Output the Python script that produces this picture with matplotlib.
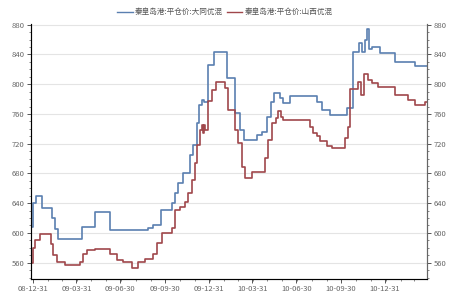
import matplotlib
matplotlib.use("Agg")
import matplotlib.pyplot as plt
import matplotlib.dates as mdates
import pandas as pd

plt.rcParams['font.family'] = ['Noto Sans CJK SC', 'DejaVu Sans']

series_names = ["秦皇岛港:平仓价:大同优混", "秦皇岛港:平仓价:山西优混"]

blue_dates = ["2008-12-27", "2008-12-31", "2009-01-06", "2009-01-19", "2009-02-08", "2009-02-15",
              "2009-02-21", "2009-04-12", "2009-05-09", "2009-06-09", "2009-08-27", "2009-09-06",
              "2009-09-22", "2009-10-15", "2009-10-22", "2009-10-28", "2009-11-07", "2009-11-22",
              "2009-11-28", "2009-12-06", "2009-12-10", "2009-12-17", "2009-12-21", "2009-12-29",
              "2010-01-10", "2010-02-06", "2010-02-23", "2010-03-05", "2010-03-14", "2010-04-10",
              "2010-04-20", "2010-04-30", "2010-05-09", "2010-05-15", "2010-05-27", "2010-06-02",
              "2010-06-17", "2010-08-12", "2010-08-22", "2010-09-08", "2010-10-13", "2010-10-26",
              "2010-11-07", "2010-11-13", "2010-11-20", "2010-11-24", "2010-11-28", "2010-12-04",
              "2010-12-21", "2011-01-21", "2011-03-03", "2011-03-28"]
blue_values = [608, 640, 649, 634, 620, 605,
               592, 608, 628, 604, 606, 610,
               631, 640, 654, 667, 681, 705,
               718, 748, 772, 779, 776, 826,
               843, 808, 761, 738, 725, 732,
               736, 756, 776, 788, 781, 775,
               784, 776, 765, 759, 768, 843,
               855, 843, 860, 874, 848, 850,
               842, 830, 825, 825]

red_dates = ["2008-12-27", "2008-12-31", "2009-01-04", "2009-01-15", "2009-02-06", "2009-02-10",
             "2009-02-19", "2009-03-07", "2009-04-07", "2009-04-14", "2009-04-22", "2009-05-09",
             "2009-06-09", "2009-06-23", "2009-07-06", "2009-07-24", "2009-08-06", "2009-08-20",
             "2009-09-06", "2009-09-14", "2009-09-25", "2009-10-15", "2009-10-22", "2009-11-01",
             "2009-11-11", "2009-11-17", "2009-11-26", "2009-12-02", "2009-12-06", "2009-12-12",
             "2009-12-17", "2009-12-19", "2009-12-21", "2009-12-23", "2009-12-29", "2010-01-06",
             "2010-01-15", "2010-02-02", "2010-02-08", "2010-02-23", "2010-03-01", "2010-03-09",
             "2010-03-16", "2010-03-30", "2010-04-26", "2010-05-02", "2010-05-11", "2010-05-19",
             "2010-05-23", "2010-05-29", "2010-06-02", "2010-07-28", "2010-08-04", "2010-08-12",
             "2010-08-18", "2010-09-02", "2010-09-12", "2010-10-09", "2010-10-15", "2010-10-19",
             "2010-11-05", "2010-11-11", "2010-11-17", "2010-11-26", "2010-12-04", "2010-12-17",
             "2011-01-21", "2011-02-16", "2011-03-03", "2011-03-24", "2011-03-28"]
red_values = [560, 580, 591, 599, 585, 570,
              561, 557, 561, 571, 577, 579,
              571, 564, 561, 553, 561, 565,
              571, 587, 600, 607, 631, 635,
              642, 654, 671, 694, 718, 738,
              745, 735, 745, 738, 777, 792,
              803, 795, 765, 738, 721, 689,
              674, 682, 701, 725, 748, 755,
              764, 756, 752, 743, 735, 730,
              723, 717, 714, 728, 743, 793,
              803, 785, 814, 806, 802, 796,
              785, 779, 772, 776, 776]

y_ticks = [560, 600, 640, 680, 720, 760, 800, 840, 880]
x_tick_dates = ["2008-12-31", "2009-03-31", "2009-06-30", "2009-09-30", "2009-12-31",
                "2010-03-31", "2010-06-30", "2010-09-30", "2010-12-31"]

bd = pd.to_datetime(blue_dates)
rd = pd.to_datetime(red_dates)

fig = plt.figure(figsize=(4.5, 3), dpi=100)
ax = fig.add_axes([0.069, 0.07, 0.88, 0.85])
ax.plot(bd, blue_values, drawstyle='steps-post', color='#5a7fb0', lw=1.2, label=series_names[0])
ax.plot(rd, red_values, drawstyle='steps-post', color='#a0474b', lw=1.2, label=series_names[1])

ax.set_ylim(538, 881)
ax.set_xlim(pd.Timestamp("2008-12-27"), pd.Timestamp("2011-03-28"))
ax.set_yticks(y_ticks)
ax.yaxis.set_minor_locator(matplotlib.ticker.MultipleLocator(10))
ax.set_xticks(pd.to_datetime(x_tick_dates))
ax.xaxis.set_major_formatter(mdates.DateFormatter('%y-%m-%d'))
ax.xaxis.set_minor_locator(mdates.MonthLocator(bymonthday=1))
ax.grid(axis='y', color='#e4e4e4', lw=0.8)
ax.set_axisbelow(True)

tc = '#666666'
for a in [ax]:
    a.tick_params(axis='both', which='major', labelsize=5.5, colors='#555555', length=3, width=0.7, labelcolor=tc, pad=1.5)
    a.tick_params(axis='both', which='minor', length=1.5, width=0.5, colors='#555555')
ax.spines['top'].set_visible(False)
for s in ['left', 'bottom', 'right']:
    ax.spines[s].set_color('#666666')
    ax.spines[s].set_linewidth(0.8)

ax2 = ax.twinx()
ax2.set_ylim(ax.get_ylim())
ax2.set_yticks(y_ticks)
ax2.yaxis.set_minor_locator(matplotlib.ticker.MultipleLocator(10))
ax2.tick_params(axis='y', which='major', labelsize=5.5, colors='#555555', length=3, width=0.7, labelcolor=tc, pad=1.5)
ax2.tick_params(axis='y', which='minor', length=1.5, width=0.5, colors='#555555')
ax2.spines['top'].set_visible(False)
ax2.spines['right'].set_color('#666666')
ax2.spines['right'].set_linewidth(0.8)

leg = fig.legend(loc='upper center', bbox_to_anchor=(0.5, 0.995), ncol=2, frameon=False,
                 fontsize=5.5, handlelength=2.0, handletextpad=0.3, columnspacing=0.5,
                 labelcolor='#555555')
for line in leg.get_lines():
    line.set_linewidth(1.0)

fig.savefig('out.png', dpi=100)
